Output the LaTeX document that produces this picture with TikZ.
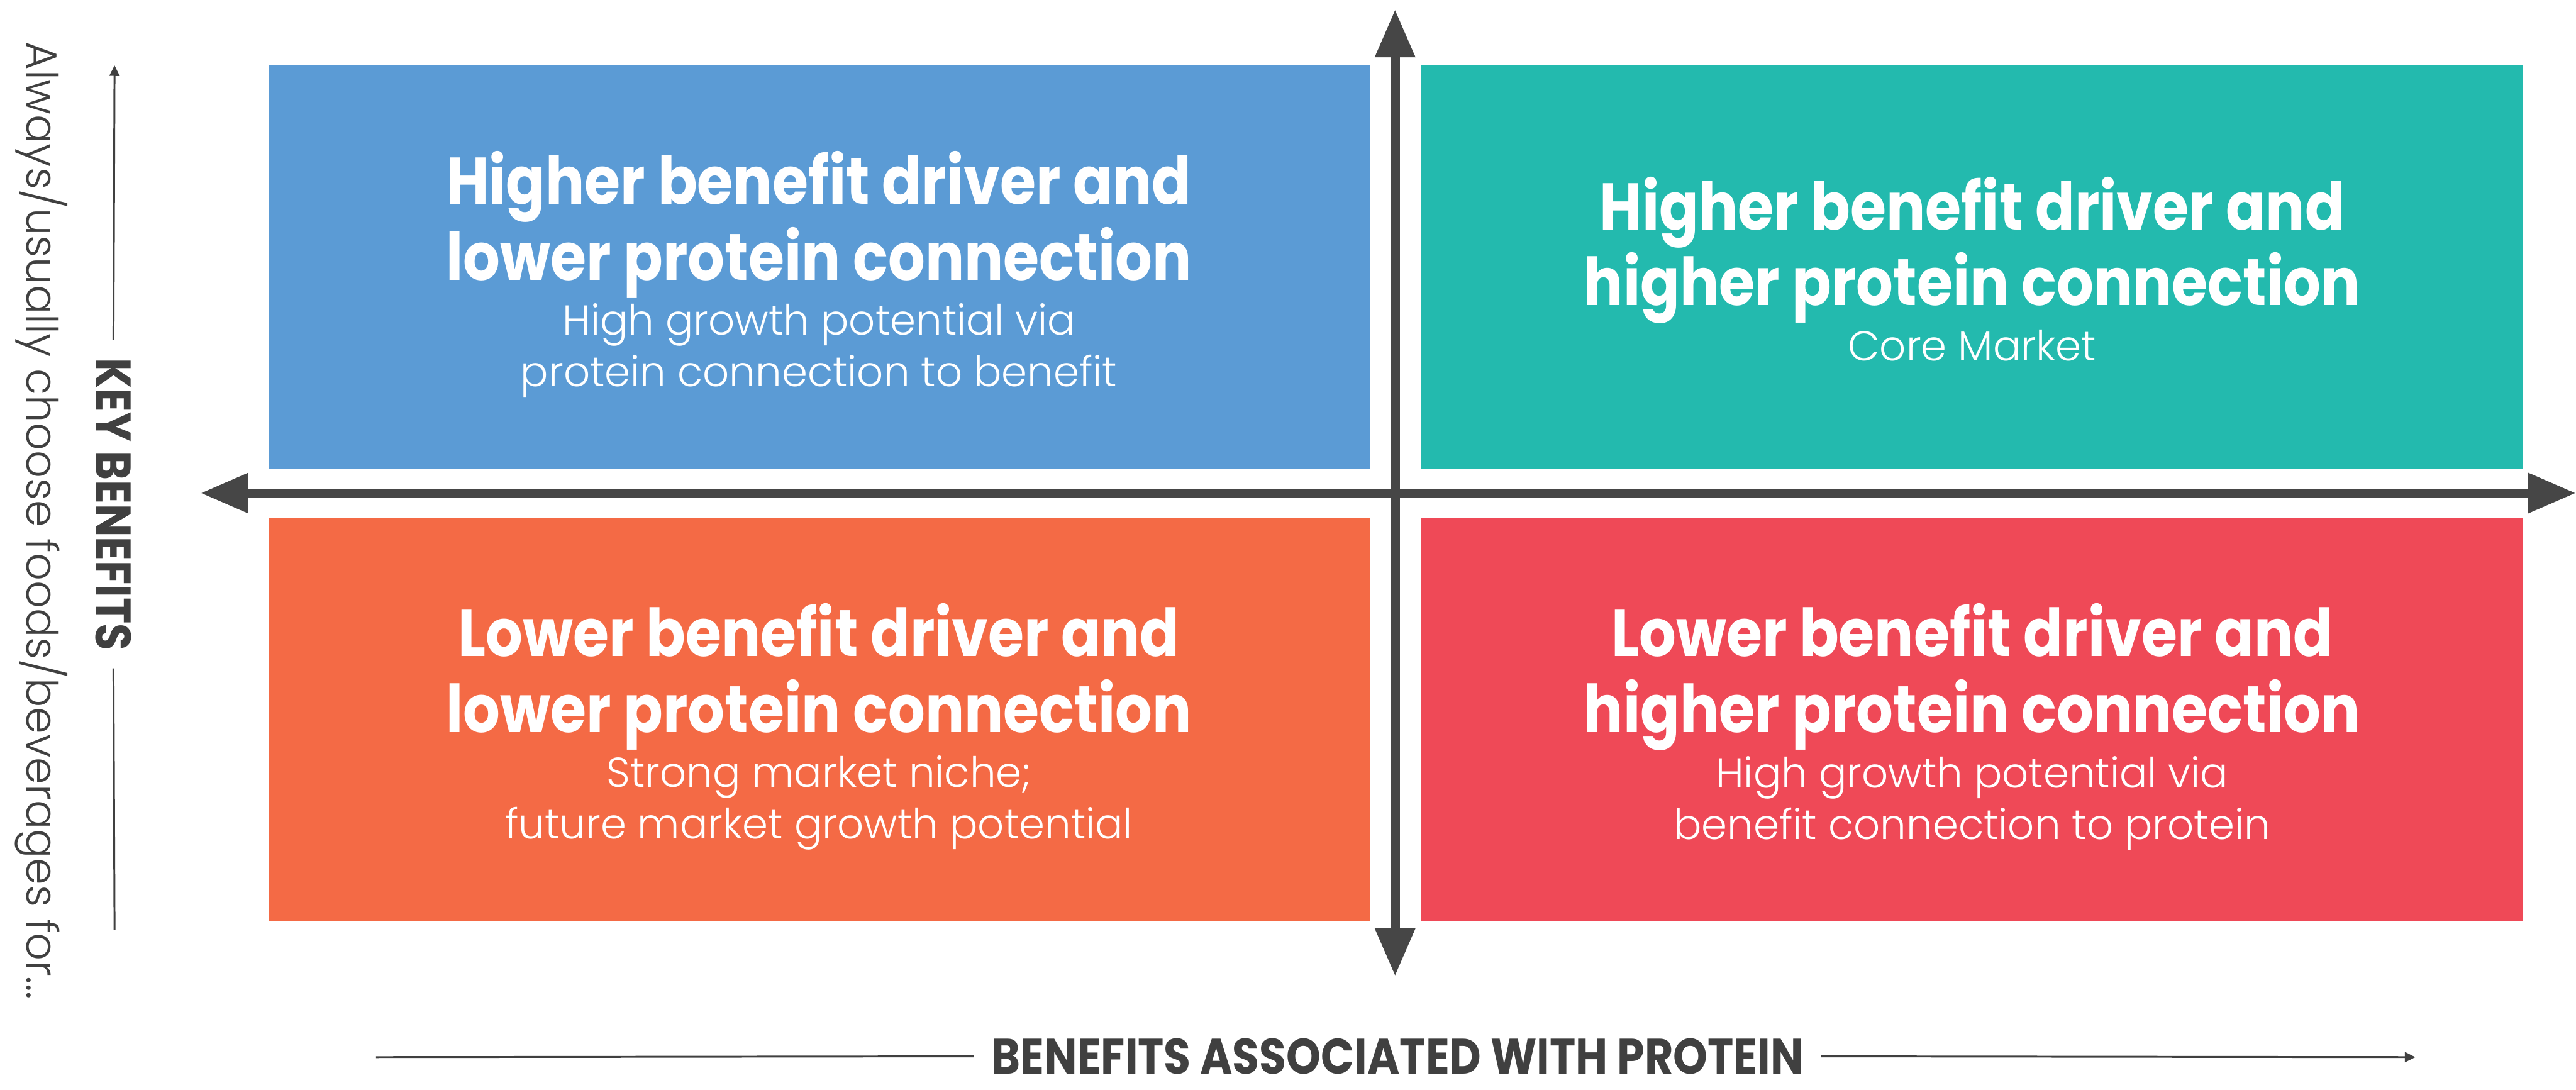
\documentclass[tikz,border=0pt]{standalone}
\usepackage{fontspec}
\setmainfont[UprightFeatures={FakeStretch=0.98}, BoldFeatures={FakeStretch=0.88}]{Poppins}
\newfontfamily\lightfont[FakeStretch=0.99]{Poppins Light}
\usepackage{xcolor}
\usetikzlibrary{arrows.meta, positioning}

\definecolor{quadblue}{HTML}{5B9BD5}
\definecolor{quadteal}{HTML}{23BAAE}
\definecolor{quadorange}{HTML}{F46A45}
\definecolor{quadred}{HTML}{EF4957}
\definecolor{axisgray}{HTML}{464646}
\definecolor{labelgray}{HTML}{404040}

\begin{document}
\begin{tikzpicture}[node distance=0.8cm]
    \tikzstyle{quad} = [rectangle, inner sep=0pt, minimum width=17.69cm, minimum height=6.48cm]
    \tikzstyle{heading} = [text=white, align=center, inner sep=0pt, font=\bfseries\fontsize{30.2}{34.7}\selectfont]
    \tikzstyle{detail} = [text=white, align=center, inner sep=0pt, font=\lightfont\fontsize{19.1}{23.4}\selectfont]
    \tikzstyle{axis} = [draw=axisgray, line width=0.15cm]
    \tikzstyle{axislabel} = [text=labelgray, anchor=base, inner ysep=0pt, inner xsep=0.28cm, font=\bfseries\fontsize{22.8}{27}\selectfont]
    \tikzstyle{guide} = [draw=labelgray, line width=0.03cm]

    \useasboundingbox (0,0) rectangle (41.38,-17.5);

    % the four quadrants
    \node[quad, fill=quadblue] (hbl) at (13.155,-4.29) {};
    \node[quad, fill=quadteal, right=0.82cm of hbl] (hbh) {};
    \node[quad, fill=quadorange, below=0.78cm of hbl] (lbl) {};
    \node[quad, fill=quadred, below=0.78cm of hbh] (lbh) {};

    \node[heading, below=1.38cm of hbl.north] (hbl title) {Higher benefit driver and\\lower protein connection};
    \node[detail, below=0.08cm of hbl title] (hbl text) {High growth potential via\\protein connection to benefit};

    \node[heading, below=1.79cm of hbh.north] (hbh title) {Higher benefit driver and\\higher protein connection};
    \node[detail, below=0.08cm of hbh title] (hbh text) {Core Market};

    \node[heading, below=1.37cm of lbl.north] (lbl title) {Lower benefit driver and\\lower protein connection};
    \node[detail, below=0.08cm of lbl title] (lbl text) {Strong market niche;\\future market growth potential};

    \node[heading, below=1.37cm of lbh.north] (lbh title) {Lower benefit driver and\\higher protein connection};
    \node[detail, below=0.08cm of lbh title] (lbh text) {High growth potential via\\benefit connection to protein};

    % crossing axes
    \coordinate (ytop) at (22.41,-0.15);
    \coordinate (ybot) at (22.41,-15.68);
    \coordinate (xleft) at (3.22,-7.92);
    \coordinate (xright) at (41.38,-7.92);
    \draw[axis, {Triangle[length=0.77cm, width=0.61cm]}-{Triangle[length=0.77cm, width=0.61cm]}] (ybot) -- (ytop);
    \draw[axis, {Triangle[length=0.77cm, width=0.61cm]}-{Triangle[length=0.77cm, width=0.61cm]}] (xleft) -- (xright);

    % axis titles
    \node[axislabel] (xlabel) at (22.45,-17.25) {BENEFITS ASSOCIATED WITH PROTEIN};
    \coordinate (xstart) at (6.04,-16.98);
    \coordinate (xend) at (38.80,-16.98);
    \draw[guide] (xstart) -- (xlabel.west);
    \draw[guide, -{Triangle[length=0.17cm, width=0.16cm]}] (xlabel.east) -- (xend);

    \node[axislabel, rotate=-90] (ylabel) at (1.54,-8.10) {KEY BENEFITS};
    \coordinate (ystart) at (1.84,-14.93);
    \coordinate (yend) at (1.84,-1.05);
    \draw[guide] (ystart) -- (ylabel.east);
    \draw[guide, -{Triangle[length=0.17cm, width=0.16cm]}] (ylabel.west) -- (yend);

    \node[text=labelgray, anchor=base, rotate=-90, inner sep=0pt, font=\lightfont\fontsize{19.9}{24}\selectfont] (ynote) at (0.43,-8.36) {Always/usually choose foods/beverages for\ldots};
\end{tikzpicture}
\end{document}
